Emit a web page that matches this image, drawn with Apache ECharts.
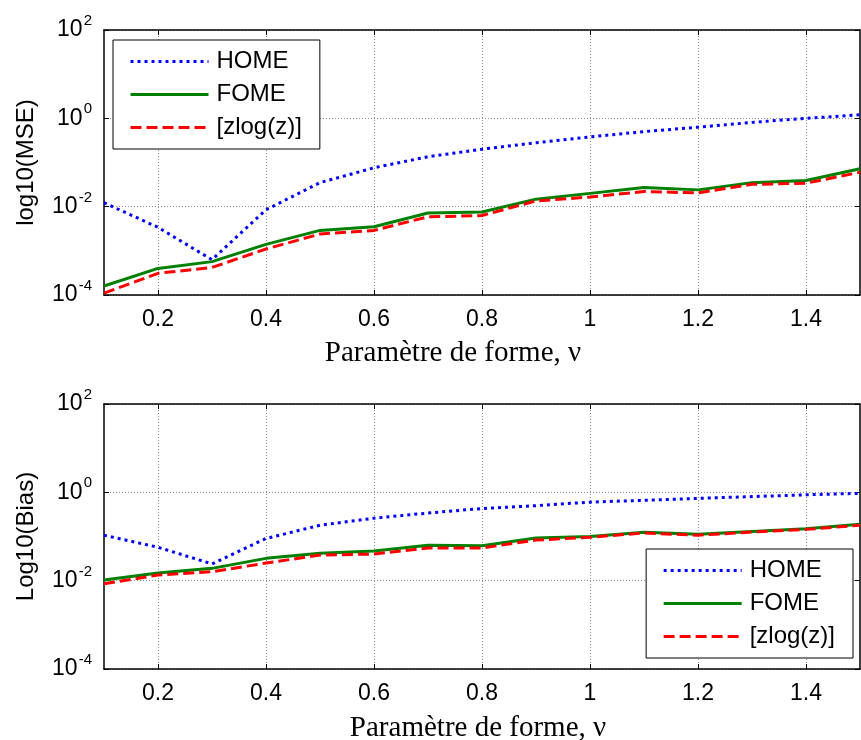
<!DOCTYPE html>
<html>
<head>
<meta charset="utf-8">
<script src="https://cdn.jsdelivr.net/npm/echarts@6/dist/echarts.min.js"></script>
<style>
  html, body { margin: 0; padding: 0; background: #fff; }
  #chart { width: 861px; height: 740px; }
</style>
</head>
<body>
<div id="chart"></div>
<script>
// shape parameter nu
var nuValues = [0.1, 0.2, 0.3, 0.4, 0.5, 0.6, 0.7, 0.8, 0.9, 1.0, 1.1, 1.2, 1.3, 1.4, 1.5];
var xTicks = [0.2, 0.4, 0.6, 0.8, 1, 1.2, 1.4];
var seriesNames = ['HOME', 'FOME', '[zlog(z)]'];

// MSE (top)
var mseHome = [0.0123, 0.0034, 0.00063, 0.0085, 0.035, 0.076, 0.135, 0.2, 0.28, 0.38, 0.5, 0.63, 0.81, 1.0, 1.2];
var mseFome = [0.00016, 0.0004, 0.00057, 0.0014, 0.0029, 0.0035, 0.0072, 0.0076, 0.0148, 0.020, 0.027, 0.024, 0.035, 0.039, 0.072];
var mseZlog = [0.00011, 0.00031, 0.00042, 0.0011, 0.0024, 0.0029, 0.0059, 0.0063, 0.0135, 0.0165, 0.022, 0.0205, 0.032, 0.034, 0.06];

// Bias (bottom)
var biasHome = [0.107, 0.057, 0.024, 0.09, 0.18, 0.26, 0.34, 0.43, 0.5, 0.6, 0.66, 0.73, 0.8, 0.88, 0.95];
var biasFome = [0.0103, 0.015, 0.019, 0.032, 0.042, 0.047, 0.063, 0.062, 0.093, 0.1, 0.125, 0.112, 0.13, 0.15, 0.19];
var biasZlog = [0.0085, 0.0134, 0.016, 0.025, 0.038, 0.04, 0.055, 0.055, 0.083, 0.096, 0.12, 0.107, 0.126, 0.145, 0.18];

function pairs(ys) {
  return nuValues.map(function (x, i) { return [x, ys[i]]; });
}

var sans = '"Liberation Sans", Arial, sans-serif';
var serif = '"Liberation Serif", "Times New Roman", serif';
var gridColor = '#8c8c8c';

function xMain(gridIndex, shiftLeft, gap) {
  return {
    type: 'value', gridIndex: gridIndex, min: 0.1, max: 1.5, position: 'bottom',
    name: 'Paramètre de forme, ν', nameLocation: 'middle', nameGap: gap,
    nameTextStyle: { fontFamily: serif, fontSize: 29, color: '#000', padding: [0, shiftLeft * 2, 0, 0] },
    axisLine: { onZero: false, lineStyle: { color: '#000', width: 1.5 } },
    axisTick: { inside: true, length: 5, customValues: xTicks, lineStyle: { color: '#000' } },
    axisLabel: { customValues: xTicks, margin: 13, fontFamily: sans, fontSize: 23, color: '#000',
      formatter: function (v) { return String(Math.round(v * 10) / 10); } },
    splitLine: { show: true, lineStyle: { color: gridColor, type: [1, 2], width: 1 } }
  };
}
function xTop(gridIndex) {
  return {
    type: 'value', gridIndex: gridIndex, min: 0.1, max: 1.5, position: 'top',
    axisLine: { onZero: false, lineStyle: { color: '#000', width: 1.5 } },
    axisTick: { inside: true, length: 5, customValues: xTicks, lineStyle: { color: '#000' } },
    axisLabel: { show: false },
    splitLine: { show: false }
  };
}
function yMain(gridIndex, name) {
  return {
    type: 'log', logBase: 10, gridIndex: gridIndex, min: 1e-4, max: 1e2, interval: 2, position: 'left',
    name: name, nameLocation: 'middle', nameGap: 66,
    nameTextStyle: { fontFamily: sans, fontSize: 24, color: '#000' },
    axisLine: { onZero: false, lineStyle: { color: '#000', width: 1.5 } },
    axisTick: { inside: true, length: 5, lineStyle: { color: '#000' } },
    minorTick: { show: false },
    axisLabel: {
      margin: 12, color: '#000',
      formatter: function (v) {
        var e = Math.round(Math.log(v) / Math.LN10);
        return '{b|10}{s|' + e + '}';
      },
      rich: {
        b: { fontFamily: sans, fontSize: 23, color: '#000' },
        s: { fontFamily: sans, fontSize: 15, color: '#000', padding: [0, 0, 18, 1] }
      }
    },
    splitLine: { show: true, lineStyle: { color: gridColor, type: [1, 2], width: 1 } }
  };
}
function yRight(gridIndex) {
  return {
    type: 'log', logBase: 10, gridIndex: gridIndex, min: 1e-4, max: 1e2, interval: 2, position: 'right',
    axisLine: { onZero: false, lineStyle: { color: '#000', width: 1.5 } },
    axisTick: { inside: true, length: 5, lineStyle: { color: '#000' } },
    axisLabel: { show: false },
    splitLine: { show: false }
  };
}

function makeSeries(xi, yi, data) {
  var styles = [
    { color: '#0000ff', width: 3, type: [3, 4] },
    { color: '#008000', width: 3, type: 'solid' },
    { color: '#ff0000', width: 3, type: [11, 5] }
  ];
  return data.map(function (ys, k) {
    return {
      name: seriesNames[k], type: 'line', xAxisIndex: xi, yAxisIndex: yi,
      data: pairs(ys), symbol: 'none', smooth: false, animation: false,
      lineStyle: styles[k], itemStyle: { color: styles[k].color }
    };
  });
}

function legendBox(pos) {
  return Object.assign({
    orient: 'vertical', data: seriesNames,
    itemWidth: 78, itemHeight: 14, itemGap: 8,
    padding: [9, 18, 9, 16],
    backgroundColor: '#fff', borderColor: '#000', borderWidth: 1, borderRadius: 0,
    itemStyle: { opacity: 0 },
    lineStyle: { width: 3 },
    textStyle: { fontFamily: sans, fontSize: 24, color: '#000', lineHeight: 25, padding: [0, 0, 0, 3] },
    selectedMode: false
  }, pos);
}

var chart = echarts.init(document.getElementById('chart'), null, { renderer: 'canvas' });
chart.setOption({
  backgroundColor: '#fff',
  animation: false,
  grid: [
    { left: 104, right: 1, top: 30, height: 265, outerBoundsMode: 'none' },
    { left: 104, right: 1, top: 404, height: 265, outerBoundsMode: 'none' }
  ],
  legend: [
    legendBox({ left: 113, top: 40 }),
    legendBox({ right: 8, top: 549 })
  ],
  xAxis: [xMain(0, 29, 44), xTop(0), xMain(1, 4, 45), xTop(1)],
  yAxis: [yMain(0, 'log10(MSE)'), yRight(0), yMain(1, 'Log10(Bias)'), yRight(1)],
  series: [].concat(
    makeSeries(0, 0, [mseHome, mseFome, mseZlog]),
    makeSeries(2, 2, [biasHome, biasFome, biasZlog])
  )
});
</script>
</body>
</html>
